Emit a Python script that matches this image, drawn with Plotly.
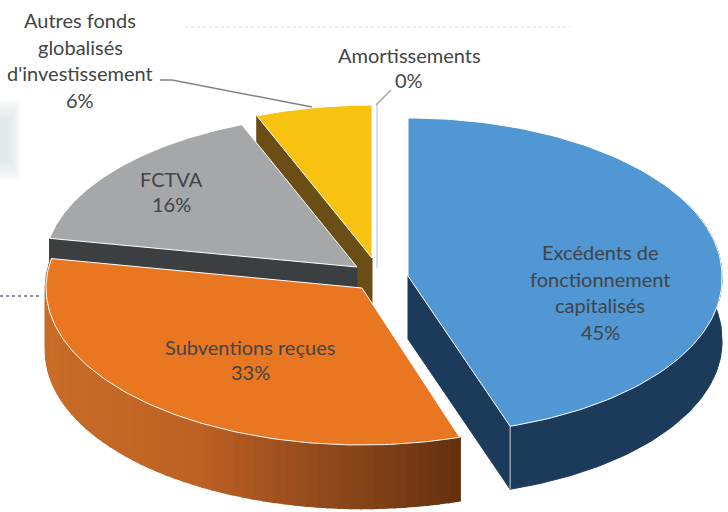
import numpy as np
import plotly.graph_objects as go

labels = ["Excédents de<br>fonctionnement<br>capitalisés", "Subventions reçues", "FCTVA",
          "Autres fonds<br>globalisés<br>d'investissement", "Amortissements"]
values = [45, 33, 16, 6, 0]

# 3d look: each slice has its own apex and ellipse radii (pixels of the page)
apex_x = [408, 362, 357, 372, 377]
apex_y = [276, 288, 267, 258, 268]
radius_x = [314, 316, 313, 313, 313]
radius_y = [158, 157, 153, 153, 163]
lean = [0.034, 0, 0, 0, 0]  # the scan is slightly skewed on the blue slice
depth = 63

top_colors = ["#5097d3", "#e97722", "#a5a7a9", "#f7c210", "#c5d5ec"]
side_colors = ["#1c3a5a", None, "#3c3f41", "#6b4e16", None]
label_font = "Lato"
text_color = "#424448"

# centre of the first text line and spacing for each label
label_x = [600, 250, 171, 80, 409]
label_y = [252, 347, 179, 20, 55]
label_step = [26.5, 25, 25, 26.5, 25]

bounds = np.cumsum([0] + values) * 3.6


def rim(i, angles):
    a = np.radians(angles)
    dy = -radius_y[i] * np.cos(a)
    return apex_x[i] + radius_x[i] * np.sin(a) + lean[i] * np.maximum(dy, 0), apex_y[i] + dy


def poly(fig, xs, ys, fill, line="white", width=1):
    fig.add_trace(go.Scatter(x=xs, y=ys, mode="lines", fill="toself", fillcolor=fill,
                             line=dict(color=line, width=width), hoverinfo="skip", showlegend=False))


def top(fig, i):
    xs, ys = rim(i, np.linspace(bounds[i], bounds[i + 1], 120))
    poly(fig, [apex_x[i]] + list(xs) + [apex_x[i]], [apex_y[i]] + list(ys) + [apex_y[i]], top_colors[i])


def cut_face(fig, i, angle):
    x, y = rim(i, np.array([angle]))
    xs = [apex_x[i], x[0], x[0], apex_x[i], apex_x[i]]
    ys = [apex_y[i], y[0], y[0] + depth, apex_y[i] + depth, apex_y[i]]
    poly(fig, xs, ys, side_colors[i], line=side_colors[i])


def outer_wall(fig, i, a0, a1):
    xs, ys = rim(i, np.linspace(a0, a1, 80))
    poly(fig, list(xs) + list(xs[::-1]), list(ys) + list(ys[::-1] + depth), side_colors[i], line=side_colors[i])


fig = go.Figure()

# back slices first
cut_face(fig, 3, bounds[3])
cut_face(fig, 2, bounds[2])
top(fig, 2)
top(fig, 3)
xs, ys = rim(4, np.array([bounds[4]]))
fig.add_trace(go.Scatter(x=[apex_x[4], xs[0]], y=[apex_y[4], ys[0]], mode="lines",
                         line=dict(color=top_colors[4], width=1.5), hoverinfo="skip", showlegend=False))

# orange wall, darker towards the right
steps = np.linspace(bounds[1], bounds[2], 60)
for a0, a1 in zip(steps[:-1], steps[1:]):
    xs, ys = rim(1, np.array([a0, a1]))
    r = np.interp(xs[0], [46, 200, 300, 400, 462], [200, 190, 155, 122, 100])
    g = np.interp(xs[0], [46, 200, 300, 400, 462], [110, 98, 78, 62, 50])
    b = np.interp(xs[0], [46, 200, 300, 400, 462], [40, 36, 30, 22, 15])
    col = "rgb(%d,%d,%d)" % (r, g, b)
    poly(fig, [xs[0], xs[1], xs[1], xs[0], xs[0]], [ys[0], ys[1], ys[1] + depth, ys[0] + depth, ys[0]], col, line=col, width=2.5)
top(fig, 1)

# blue slice in front
outer_wall(fig, 0, 60, bounds[1])
cut_face(fig, 0, bounds[1])
xs, ys = rim(0, np.array([bounds[1]]))
fig.add_trace(go.Scatter(x=[xs[0], xs[0]], y=[ys[0], ys[0] + depth], mode="lines",
                         line=dict(color="#c8d4e0", width=1), hoverinfo="skip", showlegend=False))
top(fig, 0)

for i, lab in enumerate(labels):
    lines = lab.split("<br>") + ["%d%%" % values[i]]
    for k, line in enumerate(lines):
        fig.add_annotation(x=label_x[i], y=label_y[i] + k * label_step[i], text=line, showarrow=False,
                           xanchor="center", yanchor="middle",
                           font=dict(family=label_font, size=20, color=text_color))

# leader lines
fig.add_shape(type="path", path="M 160 80 L 172 80 L 312 107", line=dict(color="#808285", width=1.5))
fig.add_shape(type="line", x0=376, y0=105, x1=391, y1=90, line=dict(color="#a0a2a5", width=1.5))

# scan leftovers around the chart
fig.add_shape(type="line", x0=0, y0=296, x1=42, y1=296, line=dict(color="#5f6f7f", width=1.5, dash="dot"))
fig.add_shape(type="line", x0=185, y0=27, x1=570, y1=27, line=dict(color="#ece8e0", width=1.5, dash="dot"))
for grow in range(8):
    fig.add_shape(type="rect", x0=-5, x1=10 + grow * 1.5, y0=118 - grow * 2.5, y1=162 + grow * 2.5,
                  fillcolor="#dcdde0", opacity=0.13, line_width=0, layer="below")

fig.update_layout(width=728, height=512, margin=dict(l=0, r=0, t=0, b=0), paper_bgcolor="white",
                  plot_bgcolor="white", showlegend=False,
                  xaxis=dict(range=[0, 728], visible=False, fixedrange=True),
                  yaxis=dict(range=[512, 0], visible=False, fixedrange=True))
fig.write_html("out.html", config=dict(displayModeBar=False),
               post_script="document.body.style.margin='0';document.body.style.overflow='hidden';")
